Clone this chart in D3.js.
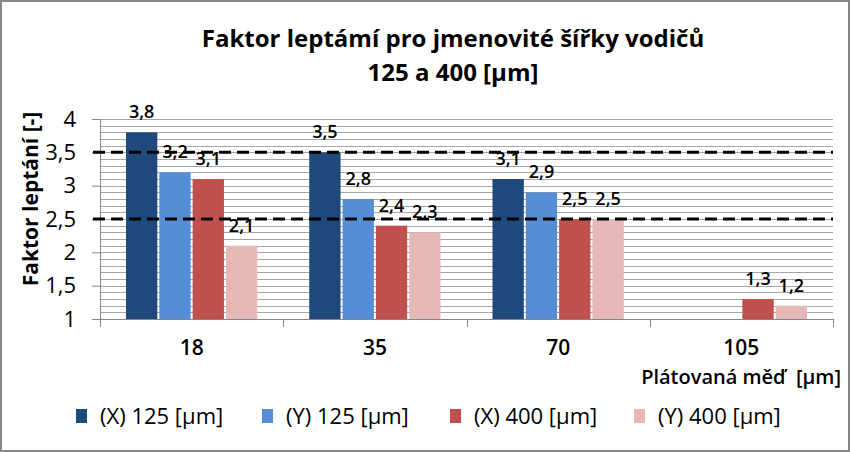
<!DOCTYPE html>
<html>
<head>
<meta charset="utf-8">
<script src="https://cdn.jsdelivr.net/npm/d3@7"></script>
<style>
  body { margin: 0; background: #fff; }
  text { font-family: "Open Sans", "DejaVu Sans", sans-serif; fill: #000; white-space: pre; }
</style>
</head>
<body>
<div id="chart"></div>
<script>
// chart data
const categories = ["18", "35", "70", "105"];
const seriesNames = ["(X) 125 [µm]", "(Y) 125 [µm]", "(X) 400 [µm]", "(Y) 400 [µm]"];
const x125 = [3.8, 3.5, 3.1, null];
const y125 = [3.2, 2.8, 2.9, null];
const x400 = [3.1, 2.4, 2.5, 1.3];
const y400 = [2.1, 2.3, 2.5, 1.2];
const yTickValues = [1, 1.5, 2, 2.5, 3, 3.5, 4];
const limitLines = [3.5, 2.5];
const colors = ["#1F497D", "#558ED5", "#C0504D", "#E6B9B8"];

const seriesValues = [x125, y125, x400, y400];
const fmt = d => String(d).replace(".", ",");

function renderChart() {
  const width = 850, height = 452;
  const svg = d3.select("#chart")
    .append("svg")
    .attr("width", width)
    .attr("height", height);

  // outer border
  svg.append("rect")
    .attr("x", 1).attr("y", 1)
    .attr("width", width - 2).attr("height", height - 2)
    .attr("fill", "#fff")
    .attr("stroke", "#868686")
    .attr("stroke-width", 2);

  // scales
  const x = d3.scaleBand()
    .domain(categories)
    .range([100, 833])
    .padding(0);

  const xs = d3.scaleBand()
    .domain(seriesNames)
    .range([0, x.bandwidth()])
    .paddingInner(0)
    .paddingOuter(0.75);

  const y = d3.scaleLinear()
    .domain([1, 4])
    .range([319, 119]);

  // minor gridlines every 0.1
  svg.append("g")
    .selectAll("line")
    .data(y.ticks(30))
    .enter().append("line")
    .attr("x1", 100).attr("x2", 833)
    .attr("y1", d => Math.round(y(d)) + 0.5)
    .attr("y2", d => Math.round(y(d)) + 0.5)
    .attr("stroke", "#a6a6a6")
    .attr("stroke-width", 1);

  // bars
  const rows = [];
  categories.forEach((c, i) => {
    seriesNames.forEach((s, j) => {
      if (seriesValues[j][i] != null) rows.push({ cat: c, series: s, value: seriesValues[j][i], k: j });
    });
  });

  svg.append("g")
    .selectAll("rect")
    .data(rows)
    .enter().append("rect")
    .attr("x", d => x(d.cat) + xs(d.series) + 1)
    .attr("y", d => y(d.value))
    .attr("width", xs.bandwidth() - 2)
    .attr("height", d => y(1) - y(d.value))
    .attr("fill", d => colors[d.k]);

  // y axis
  const yAxis = svg.append("g")
    .attr("transform", "translate(100,0)")
    .call(d3.axisLeft(y).tickValues(yTickValues).tickSize(8).tickPadding(16).tickFormat(fmt));
  yAxis.select(".domain").attr("stroke", "#868686");
  yAxis.selectAll(".tick line").attr("stroke", "#868686");
  yAxis.selectAll("text")
    .style("font-family", "'Open Sans', sans-serif")
    .style("font-size", "22px")
    .style("font-weight", "500")
    .attr("fill", "#000");

  // x axis
  const xAxis = svg.append("g")
    .attr("transform", "translate(0,319)")
    .call(d3.axisBottom(x).tickSize(0).tickPadding(21));
  xAxis.select(".domain").attr("stroke", "#868686");
  xAxis.selectAll("text")
    .style("font-family", "'Open Sans', sans-serif")
    .style("font-size", "21px")
    .style("font-weight", "600")
    .attr("fill", "#000");

  // category boundary ticks
  svg.append("g")
    .selectAll("line")
    .data(categories.map(c => x(c)).concat([x.range()[1]]))
    .enter().append("line")
    .attr("x1", d => Math.round(d) + 0.5).attr("x2", d => Math.round(d) + 0.5)
    .attr("y1", 319).attr("y2", 327)
    .attr("stroke", "#868686");

  // dashed limit lines
  svg.append("g")
    .selectAll("line")
    .data(limitLines)
    .enter().append("line")
    .attr("x1", 93).attr("x2", 833)
    .attr("y1", d => y(d)).attr("y2", d => y(d))
    .attr("stroke", "#000")
    .attr("stroke-width", 3)
    .attr("stroke-dasharray", "12,6");

  // data labels
  svg.append("g")
    .selectAll("text")
    .data(rows)
    .enter().append("text")
    .attr("x", d => x(d.cat) + xs(d.series) + xs.bandwidth() / 2)
    .attr("y", d => y(d.value) - 14)
    .attr("text-anchor", "middle")
    .style("font-size", "18px")
    .style("font-weight", "600")
    .text(d => fmt(d.value));

  // title
  svg.append("text")
    .attr("x", 453).attr("y", 47)
    .attr("text-anchor", "middle")
    .style("font-size", "24px")
    .style("font-weight", "700")
    .text("Faktor leptámí pro jmenovité šířky vodičů");
  svg.append("text")
    .attr("x", 453).attr("y", 81)
    .attr("text-anchor", "middle")
    .style("font-size", "24px")
    .style("font-weight", "700")
    .text("125 a 400 [µm]");

  // y axis title
  svg.append("text")
    .attr("transform", "translate(38,199) rotate(-90)")
    .attr("text-anchor", "middle")
    .style("font-size", "21px")
    .style("font-weight", "700")
    .text("Faktor leptání [-]");

  // x axis title
  svg.append("text")
    .attr("x", 841).attr("y", 384)
    .attr("text-anchor", "end")
    .style("font-size", "20px")
    .style("font-weight", "600")
    .text("Plátovaná měď  [µm]");

  // legend
  const legendX = [76, 262, 450, 634];
  const legend = svg.append("g")
    .selectAll("g")
    .data(seriesNames)
    .enter().append("g")
    .attr("transform", (d, i) => `translate(${legendX[i]},416)`);
  legend.append("rect")
    .attr("x", 0).attr("y", -7)
    .attr("width", 11).attr("height", 14)
    .attr("fill", (d, i) => colors[i]);
  legend.append("text")
    .attr("x", 24).attr("y", 8)
    .style("font-size", "22px")
    .text(d => d);
}

document.addEventListener("DOMContentLoaded", renderChart);
</script>
</body>
</html>
